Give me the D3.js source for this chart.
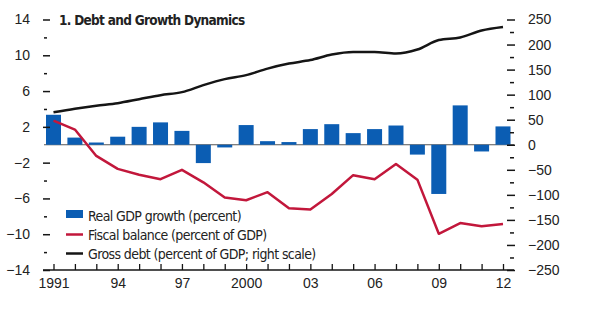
<!DOCTYPE html>
<html>
<head>
<meta charset="utf-8">
<script src="https://cdn.jsdelivr.net/npm/d3@7"></script>
<style>
  body { margin: 0; background: #fff; }
  text { font-family: "Liberation Sans", Arial, sans-serif; }
  .narrow { font-family: "DejaVu Sans Condensed", sans-serif; }
</style>
</head>
<body>
<div class="chart"></div>
<script>
var years = d3.range(1991, 2013);
var gdpGrowth = [3.35, 0.8, 0.25, 0.9, 2.0, 2.5, 1.55, -2.05, -0.3, 2.2, 0.4, 0.3,
                 1.75, 2.3, 1.3, 1.75, 2.15, -1.1, -5.5, 4.4, -0.75, 2.05];
var fiscalBalance = [2.7, 1.7, -1.25, -2.7, -3.35, -3.85, -2.8, -4.2, -5.9, -6.2, -5.3, -7.1,
                     -7.25, -5.5, -3.4, -3.85, -2.15, -3.9, -9.95, -8.75, -9.1, -8.85];
var grossDebt = [65, 72, 78, 83, 91, 99, 105, 119, 131, 139, 152, 162,
                 169, 180, 185, 185, 182, 190, 209, 214, 228, 235];
var yearLabels = {1991: "1991", 1994: "94", 1997: "97", 2000: "2000", 2003: "03", 2006: "06", 2009: "09", 2012: "12"};
var leftTicks = d3.range(-14, 15, 2);
var rightTicks = d3.range(-250, 251, 25);
var legendItems = ["Real GDP growth (percent)", "Fiscal balance (percent of GDP)", "Gross debt (percent of GDP; right scale)"];

var svgWidth = 591, svgHeight = 324;
var blue = "#0b5db3", red = "#c2173b", black = "#151515";

var svg = d3.select(".chart")
  .append("svg")
  .attr("width", svgWidth)
  .attr("height", svgHeight);

var x = d3.scaleLinear().domain([1991, 2012]).range([53.5, 503]);
var yLeft = d3.scaleLinear().domain([-14, 14]).range([270, 19.5]);
var yRight = d3.scaleLinear().domain([-250, 250]).range([270, 19.5]);

// zero line
svg.append("line")
  .attr("x1", 44).attr("x2", 514)
  .attr("y1", yLeft(0)).attr("y2", yLeft(0))
  .attr("stroke", "#555").attr("stroke-width", 1);

// bars
svg.selectAll("rect.bar")
  .data(years)
  .enter()
  .append("rect")
  .attr("class", "bar")
  .attr("x", d => x(d) - 7.5)
  .attr("width", 15)
  .attr("y", (d, i) => yLeft(Math.max(0, gdpGrowth[i])))
  .attr("height", (d, i) => Math.abs(yLeft(gdpGrowth[i]) - yLeft(0)))
  .attr("fill", blue);

// lines
var fiscalLine = d3.line().x((d, i) => x(years[i])).y(d => yLeft(d));
var debtLine = d3.line().x((d, i) => x(years[i])).y(d => yRight(d)).curve(d3.curveMonotoneX);

svg.append("path")
  .attr("d", fiscalLine(fiscalBalance))
  .attr("fill", "none").attr("stroke", red).attr("stroke-width", 2.5)
  .attr("stroke-linejoin", "round");

svg.append("path")
  .attr("d", debtLine(grossDebt))
  .attr("fill", "none").attr("stroke", black).attr("stroke-width", 2.5)
  .attr("stroke-linejoin", "round");

// left axis
var leftAxis = d3.axisLeft(yLeft)
  .tickValues(leftTicks)
  .tickSize(7)
  .tickPadding(13)
  .tickFormat(d => (d + 14) % 4 === 0 ? d3.format("")(d) : "");

var gLeft = svg.append("g")
  .attr("transform", "translate(50,0)")
  .call(leftAxis);
gLeft.select(".domain").remove();
gLeft.selectAll(".tick line").attr("stroke", black).attr("stroke-width", 1.5);
gLeft.selectAll(".tick").filter(d => (d + 14) % 4 !== 0).select("line")
  .attr("x1", -6).attr("x2", -3);
gLeft.selectAll(".tick").filter(d => d === 0).remove();
gLeft.selectAll("text").attr("font-size", 14).attr("fill", "#222");

// right axis
var rightAxis = d3.axisRight(yRight)
  .tickValues(rightTicks)
  .tickSize(8)
  .tickPadding(13)
  .tickFormat(d => d % 50 === 0 ? d3.format("")(d) : "");

var gRight = svg.append("g")
  .attr("transform", "translate(507,0)")
  .call(rightAxis);
gRight.select(".domain").remove();
gRight.selectAll(".tick line").attr("stroke", black).attr("stroke-width", 1.5);
gRight.selectAll(".tick").filter(d => d % 50 !== 0).select("line")
  .attr("x1", 3).attr("x2", 7);
gRight.selectAll("text").attr("font-size", 14).attr("fill", "#222");

// bottom axis
var bottomAxis = d3.axisBottom(x)
  .tickValues(years)
  .tickSize(-6)
  .tickPadding(8)
  .tickFormat(d => yearLabels[d] || "");

var gBottom = svg.append("g")
  .attr("transform", "translate(0,270)")
  .call(bottomAxis);
gBottom.select(".domain").remove();
gBottom.selectAll(".tick line").attr("stroke", black).attr("stroke-width", 1.3);
gBottom.selectAll("text").attr("font-size", 14).attr("fill", "#222");
gBottom.append("line")
  .attr("x1", 43).attr("x2", 514)
  .attr("stroke", black).attr("stroke-width", 1.5);

// axis() sets font-family on the group; let the css decide
svg.selectAll("g").attr("font-family", null);

// title
svg.append("text")
  .attr("class", "narrow")
  .attr("x", 59).attr("y", 25)
  .attr("font-size", 13.5).attr("font-weight", "bold")
  .attr("letter-spacing", -0.7)
  .attr("fill", "#222")
  .text("1. Debt and Growth Dynamics");

// legend
var legend = svg.append("g").attr("transform", "translate(66,0)");
legend.append("rect")
  .attr("x", 0).attr("y", 210).attr("width", 17).attr("height", 8)
  .attr("fill", blue);
legend.append("line")
  .attr("x1", 0).attr("x2", 17).attr("y1", 234.5).attr("y2", 234.5)
  .attr("stroke", red).attr("stroke-width", 2.5);
legend.append("line")
  .attr("x1", 0).attr("x2", 17).attr("y1", 253.5).attr("y2", 253.5)
  .attr("stroke", black).attr("stroke-width", 2.5);
legend.selectAll("text.leg")
  .data(legendItems)
  .enter()
  .append("text")
  .attr("class", "leg narrow")
  .attr("x", 22)
  .attr("y", (d, i) => 221 + i * 19)
  .attr("font-size", 14)
  .attr("letter-spacing", -0.6)
  .attr("fill", "#222")
  .text(d => d);
</script>
</body>
</html>
